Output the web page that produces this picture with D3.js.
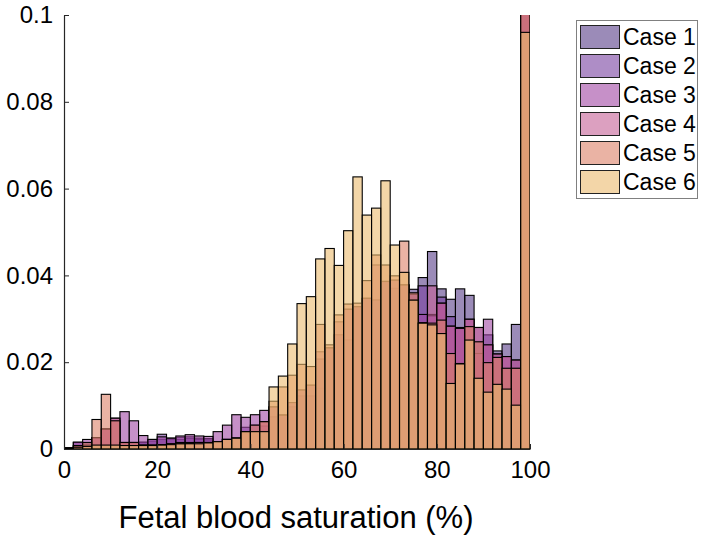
<!DOCTYPE html>
<html><head><meta charset="utf-8">
<script src="https://cdn.jsdelivr.net/npm/d3@7"></script>
<style>body{margin:0;background:#fff;}svg{display:block;font-family:"Liberation Sans",Arial,sans-serif;}</style>
</head><body>
<svg id="c" width="709" height="538"></svg>
<script>
const binEdges = d3.range(0, 101, 2);
const caseNames = ["Case 1","Case 2","Case 3","Case 4","Case 5","Case 6"];
const caseColors = ["#583e89","#7841a0","#a046a3","#c56196","#dc8168","#ebbb6e"];
const case1 = [0.0001,0.0004,0.0006,0.0009,0.0009,0.0009,0.0012,0.0015,0.0015,0.0018,
0.0022,0.0022,0.0022,0.0024,0.0022,0.0021,0.0017,0.0022,0.0025,0.0035,
0.004,0.004,0.0074,0.0078,0.0097,0.0122,0.0122,0.014,0.0233,0.0263,
0.0251,0.0328,0.0347,0.0343,0.0386,0.037,0.0378,0.0368,0.0395,0.0455,
0.0369,0.0345,0.0369,0.0354,0.0247,0.0263,0.0226,0.0242,0.0287,0.128];
const case2 = [0.0002,0.0015,0.0015,0.0026,0.0046,0.0065,0.0015,0.0015,0.0016,0.0022,
0.0034,0.0025,0.0027,0.0028,0.0025,0.0024,0.0017,0.0022,0.0025,0.005,
0.0055,0.0053,0.0074,0.0078,0.0097,0.0122,0.0122,0.0207,0.0233,0.0263,
0.0251,0.0328,0.0347,0.0343,0.0386,0.037,0.0378,0.0343,0.0376,0.031,
0.035,0.0305,0.028,0.0251,0.028,0.024,0.0219,0.0186,0.0205,0.117];
const case3 = [0.0002,0.0016,0.0022,0.0026,0.0046,0.0071,0.0086,0.0065,0.0031,0.0022,
0.0028,0.0025,0.003,0.0033,0.003,0.0029,0.004,0.0055,0.0079,0.0073,
0.0079,0.0089,0.0097,0.0078,0.0107,0.0136,0.0147,0.0207,0.0233,0.0263,
0.0322,0.0328,0.0347,0.0343,0.0386,0.0389,0.0378,0.0357,0.031,0.0307,
0.0336,0.0283,0.0278,0.0299,0.022,0.0299,0.0211,0.0213,0.0186,0.134];
const case4 = [0.0002,0.0007,0.0009,0.0026,0.0046,0.0071,0.0015,0.0015,0.0009,0.0009,
0.001,0.0012,0.0015,0.0015,0.0015,0.0015,0.0017,0.0022,0.0025,0.004,
0.004,0.0063,0.0097,0.0078,0.0107,0.0136,0.0147,0.0224,0.0233,0.0293,
0.0322,0.0328,0.0347,0.0424,0.0386,0.0389,0.0378,0.0343,0.029,0.0376,
0.0336,0.0283,0.0278,0.0299,0.028,0.024,0.0219,0.0213,0.0205,0.121];
const case5 = [0.0003,0.0008,0.0015,0.0068,0.0126,0.0065,0.0015,0.0015,0.0009,0.0009,
0.001,0.0012,0.0012,0.0013,0.0015,0.0015,0.0017,0.0022,0.0025,0.004,
0.0055,0.0063,0.011,0.0143,0.017,0.0195,0.019,0.0287,0.024,0.0309,
0.0334,0.0336,0.0388,0.0447,0.0424,0.0399,0.0479,0.036,0.0291,0.029,
0.0297,0.022,0.0197,0.0282,0.0247,0.0199,0.0211,0.0186,0.0186,0.109];
const case6 = [0.0002,0.0004,0.0006,0.0009,0.0009,0.0009,0.0008,0.0008,0.0008,0.0008,
0.0009,0.001,0.0012,0.0012,0.0012,0.0014,0.0017,0.0022,0.0025,0.004,
0.004,0.004,0.0143,0.0168,0.0242,0.0335,0.0351,0.0438,0.0462,0.0423,
0.0503,0.0627,0.0539,0.0555,0.0618,0.047,0.0407,0.0343,0.029,0.0286,
0.0266,0.0151,0.0196,0.0251,0.0163,0.0131,0.0149,0.0138,0.0101,0.096];
const xTicks = [0,20,40,60,80,100];
const yTicks = [0,0.02,0.04,0.06,0.08,0.1];
const yTickLabels = ["0","0.02","0.04","0.06","0.08","0.1"];
const xLabel = "Fetal blood saturation (%)";

const series = [case1,case2,case3,case4,case5,case6];
const svg = d3.select("#c");
const L=64, R=530, T=15, B=449;
const x = d3.scaleLinear().domain([0,100]).range([L,R]);
const y = d3.scaleLinear().domain([0,0.1]).range([B,T]);

svg.append("defs").append("clipPath").attr("id","clip")
  .append("rect").attr("x",L).attr("y",T).attr("width",R-L).attr("height",B-T);

const plot = svg.append("g").attr("clip-path","url(#clip)");
series.forEach((vals,k)=>{
  plot.append("g").selectAll("rect").data(vals).join("rect")
    .attr("x",(d,i)=>x(binEdges[i]))
    .attr("width",(d,i)=>x(binEdges[i+1])-x(binEdges[i]))
    .attr("y",d=>y(d))
    .attr("height",d=>B-y(d))
    .attr("fill",caseColors[k]).attr("fill-opacity",0.6)
    .attr("stroke","#000").attr("stroke-opacity",1).attr("stroke-width",1.1);
});

// axes
const axCol="#262626";
const gy = svg.append("g").attr("transform",`translate(${L},0)`)
  .call(d3.axisLeft(y).tickValues(yTicks).tickFormat((d,i)=>yTickLabels[i]).tickSizeInner(-5).tickSizeOuter(0).tickPadding(11));
const gx = svg.append("g").attr("transform",`translate(0,${B})`)
  .call(d3.axisBottom(x).tickValues(xTicks).tickSizeInner(-5).tickSizeOuter(0).tickPadding(12));
[gx,gy].forEach(g=>{
  g.select(".domain").attr("stroke",axCol).attr("stroke-width",1.2);
  g.selectAll(".tick line").attr("stroke",axCol);
  g.selectAll("text").attr("fill","#000").style("font-size","24px").style("font-family","'Liberation Sans',Arial,sans-serif");
});

svg.append("text").attr("x",(L+R)/2-1).attr("y",528).attr("text-anchor","middle")
  .style("font-size","31px").attr("fill","#000").text(xLabel);

// legend
const lg = svg.append("g");
lg.append("rect").attr("x",576.5).attr("y",20.5).attr("width",121).attr("height",178)
  .attr("fill","#fff").attr("stroke","#808080").attr("stroke-width",1);
caseNames.forEach((n,k)=>{
  const yy = 25 + k*29;
  lg.append("rect").attr("x",580.5).attr("y",yy+0.5).attr("width",39).attr("height",23)
    .attr("fill",caseColors[k]).attr("fill-opacity",0.6).attr("stroke","#222").attr("stroke-width",1);
  lg.append("text").attr("x",623).attr("y",yy+20).style("font-size","23px").attr("fill","#000").text(n);
});
</script>
</body></html>
